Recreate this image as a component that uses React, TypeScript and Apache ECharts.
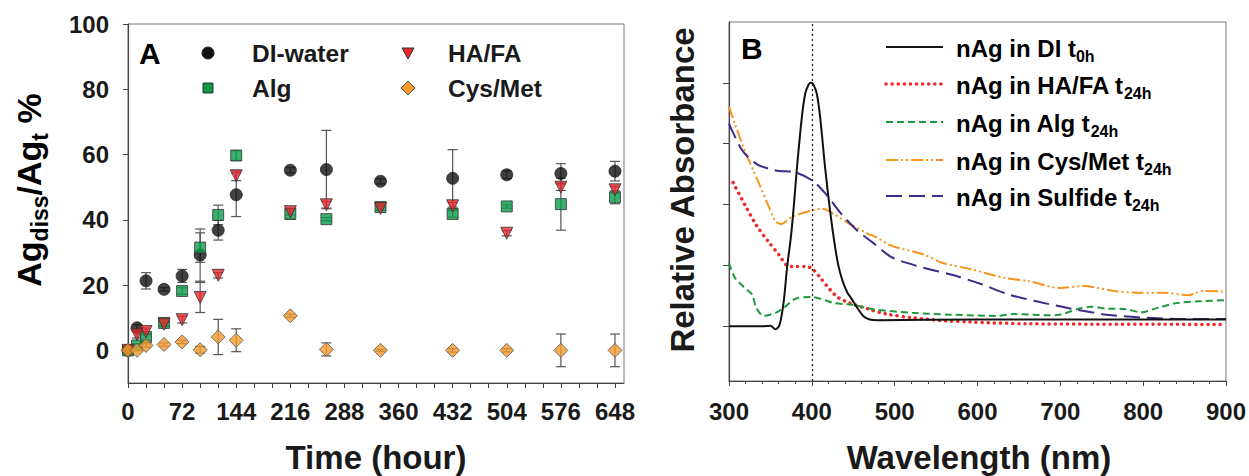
import React, { useEffect, useRef } from 'react';
import * as echarts from 'echarts';

// ---------- Panel A data (time in hours, % dissolved) ----------
const timeHours = [0, 12, 24, 48, 72, 96, 120, 144, 216, 264, 336, 432, 504, 576, 648];
const diWater = [0, 6.9, 21.3, 18.7, 22.8, 29.2, 36.8, 47.7, 55.2, 55.4, 51.8, 52.7, 53.8, 54.2, 54.9];
const diWaterErr = [0, 1, 2.5, 0.5, 2, 8, 3, 6.7, 0.8, 12, 0.8, 8.8, 1.2, 3, 3];
const alg = [0, 1.5, 4.1, 8.4, 18.2, 31.5, 41.5, 59.7, 41.8, 40.2, 43.9, 41.8, 44.1, 44.8, 46.9];
const algErr = [0, 0.5, 1, 1, 1, 4.5, 3, 1.5, 1.5, 0.5, 1, 1, 0.5, 8, 2];
const haFa = [0, 4.8, 5.8, 8, 9.4, 16.2, 23, 53.5, 42.5, 44.6, 43.5, 44.3, 35.9, 50, 49.2];
const haFaErr = [0, 1, 1, 0.5, 1, 4.6, 0.8, 1.5, 1, 1, 0.5, 1, 0.8, 1, 1];
const cysMet = [0, 0, 1.5, 1.8, 2.6, 0.2, 4.1, 3.1, 10.6, 0.3, 0, 0, 0, 0, 0];
const cysMetErr = [0, 0, 0.5, 0.5, 0.5, 1, 5.4, 3.5, 0.5, 2, 0.3, 0.5, 0.5, 5, 5];

const timeLabelTicks = [0, 72, 144, 216, 288, 360, 432, 504, 576, 648];
const timeMinorTicks = [0, 24, 48, 72, 96, 120, 144, 168, 192, 216, 240, 264, 288, 312, 336, 360, 384, 408, 432, 456, 480, 504, 528, 552, 576, 600, 624, 648];
const pctTicks = [0, 20, 40, 60, 80, 100];

// ---------- Panel B data (wavelength nm, relative absorbance) ----------
const wlDI = [300, 340, 350, 356, 361, 366, 370, 375, 379, 382, 388, 392, 396, 399, 402, 406, 410, 416, 422, 427, 432, 437, 443, 448, 455, 462, 470, 480, 600, 900];
const absDI = [0, 0, 0.01, -0.05, 0.02, 0.4, 0.95, 1.5, 2.1, 2.6, 3.44, 3.82, 3.97, 4.0, 3.97, 3.82, 3.44, 2.61, 1.9, 1.4, 1.0, 0.75, 0.55, 0.45, 0.3, 0.17, 0.11, 0.1, 0.11, 0.11];
const wlHAFA = [305, 319, 333, 347, 361, 370, 380, 394, 401, 410, 422, 432, 446, 469, 490, 521, 560, 591, 662, 900];
const absHAFA = [2.36, 2.0, 1.66, 1.4, 1.16, 1.0, 0.98, 0.98, 0.94, 0.8, 0.6, 0.47, 0.38, 0.28, 0.2, 0.14, 0.09, 0.07, 0.04, 0.03];
const wlAlg = [300, 307, 319, 328, 333, 342, 356, 366, 380, 399, 413, 427, 450, 474, 521, 568, 624, 643, 685, 699, 723, 737, 756, 779, 798, 817, 840, 868, 900];
const absAlg = [1.04, 0.8, 0.63, 0.52, 0.3, 0.17, 0.22, 0.3, 0.45, 0.48, 0.44, 0.38, 0.35, 0.28, 0.22, 0.19, 0.17, 0.2, 0.18, 0.19, 0.29, 0.32, 0.29, 0.28, 0.23, 0.3, 0.38, 0.41, 0.43];
const wlCys = [300, 307, 319, 333, 347, 356, 363, 375, 399, 413, 427, 446, 469, 474, 497, 535, 558, 591, 634, 662, 699, 728, 765, 793, 826, 854, 873, 900];
const absCys = [3.61, 3.33, 2.89, 2.45, 2.0, 1.73, 1.68, 1.79, 1.9, 1.93, 1.84, 1.68, 1.51, 1.49, 1.32, 1.18, 1.04, 0.94, 0.79, 0.74, 0.63, 0.66, 0.58, 0.55, 0.55, 0.51, 0.58, 0.57];
const wlSulf = [300, 316, 333, 356, 380, 401, 417, 436, 455, 474, 497, 535, 568, 605, 638, 671, 709, 756, 803, 850, 900];
const absSulf = [3.33, 2.89, 2.67, 2.56, 2.53, 2.39, 2.17, 1.84, 1.57, 1.37, 1.13, 0.96, 0.85, 0.69, 0.52, 0.41, 0.3, 0.19, 0.14, 0.12, 0.12];
const absTicks = [0, 1, 2, 3, 4];

const FONT = "'Liberation Sans', Arial, sans-serif";
const TXT = '#1a1a1a';
const AXIS = '#444';

const zip = (xs: number[], ys: number[]) => xs.map((x, i) => [x, ys[i]]);
const errData = (xs: number[], ys: number[], es: number[]) =>
  xs.map((x, i) => [x, ys[i] - es[i], ys[i] + es[i]]).filter((_, i) => es[i] > 0);

function errorSeries(data: number[][]) {
  return {
    type: 'custom',
    xAxisIndex: 0,
    yAxisIndex: 0,
    z: 1,
    silent: true,
    encode: { x: 0, y: [1, 2] },
    data,
    renderItem: (_p: any, api: any) => {
      const x = api.value(0);
      const lo = api.coord([x, api.value(1)]);
      const hi = api.coord([x, api.value(2)]);
      const w = 5;
      const style = { stroke: '#555', lineWidth: 1.2 };
      return {
        type: 'group',
        children: [
          { type: 'line', shape: { x1: lo[0], y1: lo[1], x2: hi[0], y2: hi[1] }, style },
          { type: 'line', shape: { x1: lo[0] - w, y1: lo[1], x2: lo[0] + w, y2: lo[1] }, style },
          { type: 'line', shape: { x1: hi[0] - w, y1: hi[1], x2: hi[0] + w, y2: hi[1] }, style },
        ],
      };
    },
  };
}

const axisLabelStyle = { color: TXT, fontSize: 24, fontWeight: 'bold' as const, fontFamily: FONT };

export default function App() {
  const ref = useRef<HTMLDivElement>(null);
  useEffect(() => {
    if (!ref.current) return;
    const chart = echarts.init(ref.current, undefined, { renderer: 'svg' });
    const subB = { fontSize: 16, fontWeight: 'bold', fontFamily: FONT, color: TXT, padding: [15, 0, 0, 0] };
    const mainB = { fontSize: 24, fontWeight: 'bold', fontFamily: FONT, color: TXT };
    const legendB = [
      { label: '{m|nAg in DI t}{s|0h}', color: '#111', dash: 'solid' as any, width: 2 },
      { label: '{m|nAg in HA/FA t}{s|24h}', color: '#ee2a2a', dash: [0.1, 6], width: 3.5 },
      { label: '{m|nAg in Alg t}{s|24h}', color: '#1d9a3e', dash: [7, 4], width: 2 },
      { label: '{m|nAg in Cys/Met t}{s|24h}', color: '#f7941d', dash: [12, 3, 2, 3, 2, 3], width: 2 },
      { label: '{m|nAg in Sulfide t}{s|24h}', color: '#3d2a8a', dash: [16, 7], width: 2 },
    ];
    const rowsB = [47, 84, 122, 160, 196];
    const legendGraphics: any[] = [];
    legendB.forEach((l, i) => {
      legendGraphics.push({
        type: 'line',
        shape: { x1: 886, y1: rowsB[i], x2: 943, y2: rowsB[i] },
        style: { stroke: l.color, lineWidth: l.width, lineDash: l.dash, lineCap: l.width > 3 ? 'round' : 'butt' },
      });
      legendGraphics.push({
        type: 'text',
        x: 956,
        y: rowsB[i] - 14,
        style: { text: l.label, rich: { m: mainB, s: subB }, verticalAlign: 'top', align: 'left' },
      });
    });

    const legTxt = { fontSize: 24.5, fontWeight: 'bold', fontFamily: FONT, fill: TXT, verticalAlign: 'middle', align: 'left' };
    const mk = { stroke: '#333', lineWidth: 1 };
    const titleStyle = { fontSize: 33, fontWeight: 'bold', fontFamily: FONT, fill: TXT, align: 'center', verticalAlign: 'middle' };

    chart.setOption({
      animation: false,
      grid: [
        { left: 128, top: 24, width: 496, height: 359, show: true, borderColor: '#777', borderWidth: 1, backgroundColor: 'transparent' },
        { left: 729, top: 22, width: 499, height: 359, show: true, borderColor: '#777', borderWidth: 1, backgroundColor: 'transparent' },
      ],
      xAxis: [
        {
          type: 'value', gridIndex: 0, min: 0, max: 660,
          axisLine: { onZero: false, lineStyle: { color: AXIS, width: 1.2 } },
          axisTick: { show: true, customValues: timeMinorTicks, length: 5, lineStyle: { color: AXIS } },
          axisLabel: { ...axisLabelStyle, customValues: timeLabelTicks, margin: 16 },
          splitLine: { show: false },
        },
        {
          type: 'value', gridIndex: 1, min: 300, max: 900, interval: 100,
          axisLine: { onZero: false, lineStyle: { color: AXIS, width: 1.2 } },
          axisTick: { show: true, length: 5, lineStyle: { color: AXIS } },
          minorTick: { show: true, splitNumber: 5, length: 3, lineStyle: { color: AXIS } },
          axisLabel: { ...axisLabelStyle, margin: 18 },
          splitLine: { show: false },
        },
      ],
      yAxis: [
        {
          type: 'value', gridIndex: 0, min: -10, max: 100,
          axisLine: { onZero: false, lineStyle: { color: AXIS, width: 1.2 } },
          axisTick: { show: true, customValues: pctTicks, length: 5, lineStyle: { color: AXIS } },
          axisLabel: { ...axisLabelStyle, customValues: pctTicks, margin: 19 },
          splitLine: { show: false },
        },
        {
          type: 'value', gridIndex: 1, min: -0.9, max: 5,
          axisLine: { onZero: false, lineStyle: { color: AXIS, width: 1.2 } },
          axisTick: { show: true, customValues: absTicks, length: 6, lineStyle: { color: AXIS } },
          axisLabel: { show: false },
          splitLine: { show: false },
        },
      ],
      series: [
        errorSeries(errData(timeHours, diWater, diWaterErr)),
        errorSeries(errData(timeHours, alg, algErr)),
        errorSeries(errData(timeHours, haFa, haFaErr)),
        errorSeries(errData(timeHours, cysMet, cysMetErr)),
        {
          name: 'DI-water', type: 'scatter', xAxisIndex: 0, yAxisIndex: 0, z: 3,
          data: zip(timeHours, diWater), symbol: 'circle', symbolSize: 12,
          itemStyle: { color: '#111', borderColor: '#222', borderWidth: 1 },
        },
        {
          name: 'Alg', type: 'scatter', xAxisIndex: 0, yAxisIndex: 0, z: 3,
          data: zip(timeHours, alg), symbol: 'rect', symbolSize: 11,
          itemStyle: { color: '#0b9a48', borderColor: '#333', borderWidth: 1 },
        },
        {
          name: 'HA/FA', type: 'scatter', xAxisIndex: 0, yAxisIndex: 0, z: 3,
          data: zip(timeHours, haFa), symbol: 'triangle', symbolRotate: 180, symbolSize: 12,
          itemStyle: { color: '#e8262b', borderColor: '#333', borderWidth: 1 },
        },
        {
          name: 'Cys/Met', type: 'scatter', xAxisIndex: 0, yAxisIndex: 0, z: 3,
          data: zip(timeHours, cysMet), symbol: 'diamond', symbolSize: 14,
          itemStyle: { color: '#f39a2b', borderColor: '#555', borderWidth: 1 },
        },
        {
          name: 'nAg in DI t0h', type: 'line', xAxisIndex: 1, yAxisIndex: 1, showSymbol: false, smooth: 0.3, z: 5,
          data: zip(wlDI, absDI), lineStyle: { color: '#111', width: 2 },
          markLine: {
            silent: true, symbol: 'none', label: { show: false },
            lineStyle: { color: '#222', type: [2, 3], width: 1.3 },
            data: [{ xAxis: 400 }],
          },
        },
        {
          name: 'nAg in HA/FA t24h', type: 'line', xAxisIndex: 1, yAxisIndex: 1, showSymbol: false, smooth: 0.3, z: 4,
          data: zip(wlHAFA, absHAFA), lineStyle: { color: '#ee2a2a', width: 3.5, type: [0.1, 6], cap: 'round' },
        },
        {
          name: 'nAg in Alg t24h', type: 'line', xAxisIndex: 1, yAxisIndex: 1, showSymbol: false, smooth: 0.3, z: 4,
          data: zip(wlAlg, absAlg), lineStyle: { color: '#1d9a3e', width: 2, type: [7, 4] },
        },
        {
          name: 'nAg in Cys/Met t24h', type: 'line', xAxisIndex: 1, yAxisIndex: 1, showSymbol: false, smooth: 0.3, z: 4,
          data: zip(wlCys, absCys), lineStyle: { color: '#f7941d', width: 2, type: [12, 3, 2, 3, 2, 3] },
        },
        {
          name: 'nAg in Sulfide t24h', type: 'line', xAxisIndex: 1, yAxisIndex: 1, showSymbol: false, smooth: 0.3, z: 4,
          data: zip(wlSulf, absSulf), lineStyle: { color: '#3d2a8a', width: 2, type: [16, 7] },
        },
      ],
      graphic: [
        // Panel A label and legend
        { type: 'text', x: 139, y: 53, style: { text: 'A', fontSize: 30, fontWeight: 'bold', fontFamily: FONT, fill: '#000', verticalAlign: 'middle' } },
        { type: 'circle', shape: { cx: 208, cy: 53, r: 6 }, style: { fill: '#111', stroke: '#222' } },
        { type: 'text', x: 252, y: 53, style: { ...legTxt, text: 'DI-water' } },
        { type: 'polygon', shape: { points: [[402, 48], [414, 48], [408, 59]] }, style: { fill: '#e8262b', ...mk } },
        { type: 'text', x: 448, y: 53, style: { ...legTxt, text: 'HA/FA' } },
        { type: 'rect', shape: { x: 203, y: 83, width: 10, height: 10 }, style: { fill: '#0b9a48', ...mk } },
        { type: 'text', x: 252, y: 88, style: { ...legTxt, text: 'Alg' } },
        { type: 'polygon', shape: { points: [[408, 81], [415, 88], [408, 95], [401, 88]] }, style: { fill: '#f39a2b', stroke: '#555', lineWidth: 1 } },
        { type: 'text', x: 448, y: 88, style: { ...legTxt, text: 'Cys/Met' } },
        // Panel B label and legend
        { type: 'text', x: 741, y: 48, style: { text: 'B', fontSize: 30, fontWeight: 'bold', fontFamily: FONT, fill: '#000', verticalAlign: 'middle' } },
        ...legendGraphics,
        // Axis titles
        {
          type: 'text', x: 29, y: 190, rotation: Math.PI / 2,
          style: {
            text: '{b|Ag}{s|diss}{b|/Ag}{s|t}{b| %}', align: 'center', verticalAlign: 'middle',
            rich: {
              b: { fontSize: 34, fontWeight: 'bold', fontFamily: FONT, color: TXT },
              s: { fontSize: 23, fontWeight: 'bold', fontFamily: FONT, color: TXT, padding: [21, 0, 0, 0] },
            },
          },
        },
        { type: 'text', x: 376, y: 457, style: { ...titleStyle, text: 'Time (hour)' } },
        { type: 'text', x: 682, y: 190, rotation: Math.PI / 2, style: { ...titleStyle, text: 'Relative Absorbance' } },
        { type: 'text', x: 979, y: 457, style: { ...titleStyle, text: 'Wavelength (nm)' } },
      ],
    });
    return () => chart.dispose();
  }, []);
  return <div ref={ref} style={{ position: 'fixed', left: 0, top: 0, width: 1249, height: 476, background: '#fff' }} />;
}
